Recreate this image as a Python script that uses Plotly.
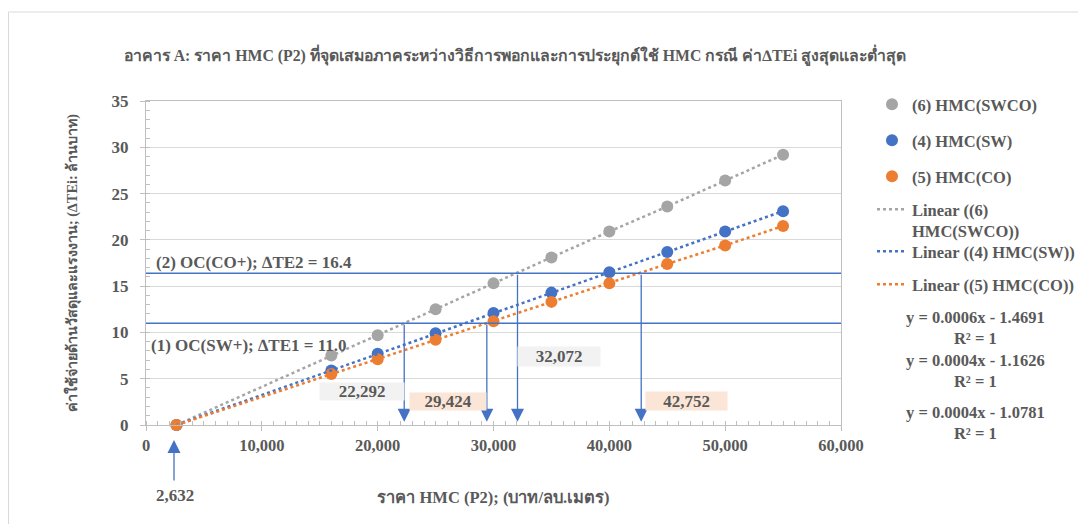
import plotly.graph_objects as go

# ---------------- data ----------------
hmc_price = [2632, 16000, 20000, 25000, 30000, 35000, 40000, 45000, 50000, 55000]
swco_vals = [0, 7.5, 9.7, 12.5, 15.3, 18.1, 20.9, 23.6, 26.4, 29.2]
sw_vals = [0, 5.9, 7.7, 9.9, 12.1, 14.3, 16.5, 18.7, 20.9, 23.1]
co_vals = [0, 5.5, 7.1, 9.2, 11.2, 13.3, 15.3, 17.4, 19.4, 21.5]

series_names = ["(6) HMC(SWCO)", "(4) HMC(SW)", "(5) HMC(CO)"]
trend_names = ["Linear ((6)<br>HMC(SWCO))", "Linear ((4) HMC(SW))", "Linear ((5) HMC(CO))"]
equations = ["y = 0.0006x - 1.4691<br>R² = 1",
             "y = 0.0004x - 1.1626<br>R² = 1",
             "y = 0.0004x - 1.0781<br>R² = 1"]

te1 = 11.0
te2 = 16.4
breakeven_x = [22292, 29424, 32072, 42752]
breakeven_from = [te1, te1, te2, te2]
breakeven_labels = ["22,292", "29,424", "32,072", "42,752"]
origin_label = "2,632"

x_ticks = [0, 10000, 20000, 30000, 40000, 50000, 60000]
x_tick_text = ["0", "10,000", "20,000", "30,000", "40,000", "50,000", "60,000"]
y_ticks = [0, 5, 10, 15, 20, 25, 30, 35]

title_text = "อาคาร A: ราคา HMC (P2) ที่จุดเสมอภาคระหว่างวิธีการพอกและการประยุกต์ใช้ HMC กรณี ค่า∆TEi สูงสุดและต่ำสุด"
x_title = "ราคา HMC (P2); (บาท/ลบ.เมตร)"
y_title = "ค่าใช้จ่ายด้านวัสดุและแรงงาน; (∆TEi: ล้านบาท)"

# ---------------- style ----------------
FONT = "Liberation Serif, Times New Roman, serif"
TXT = "#595959"
GRAY = "#A5A5A5"
BLUE = "#4472C4"
ORANGE = "#ED7D31"
colors = [GRAY, BLUE, ORANGE]
series_vals = [swco_vals, sw_vals, co_vals]
FS = 17  # main label size

# page offset (default body margin of the html page)
OFF = 8
# plot area in page pixels
L, R, T, B = 146, 841, 101, 425
W, H = 1086 - OFF, 524 - OFF


def px2x(px):
    return (px - L) / (R - L)


def py2y(py):
    return (B - py) / (B - T)


fig = go.Figure()

legend_ids = ["legend", "legend2", "legend3", "legend4", "legend5", "legend6"]
legend_rows = [104, 140, 176, 209, 251, 284]
LFS = 16.5

for i in range(3):
    fig.add_trace(go.Scatter(
        x=hmc_price, y=series_vals[i], mode="markers", name=f"<b>{series_names[i]}</b>",
        marker=dict(color=colors[i], size=12), legend=legend_ids[i],
        cliponaxis=False))

for i in range(3):
    fig.add_trace(go.Scatter(
        x=hmc_price, y=series_vals[i], mode="lines", name=f"<b>{trend_names[i]}</b>",
        line=dict(color=colors[i], width=2.5, dash="3px,3px"),
        legend=legend_ids[i + 3]))

# horizontal OC lines
for yv in [te1, te2]:
    fig.add_shape(type="line", xref="x", yref="y", x0=0, x1=60000, y0=yv, y1=yv,
                  line=dict(color=BLUE, width=1.5), layer="above")

annotations = []
# vertical arrows at break-even points
for xv, yv in zip(breakeven_x, breakeven_from):
    annotations.append(dict(
        x=xv, y=0.35, ax=xv, ay=yv, xref="x", yref="y", axref="x", ayref="y",
        text="", showarrow=True, arrowhead=2, arrowsize=2, arrowwidth=1.3,
        arrowcolor=BLUE))

# value boxes
box_specs = [
    (362, 391, 84, 17, "#F2F2F2"),
    (448, 401, 76, 17, "#FBE5D6"),
    (559, 356, 82, 19, "#F2F2F2"),
    (686, 401, 81, 18, "#FBE5D6"),
]
for (cx, cy, bw, bh, bg), lab in zip(box_specs, breakeven_labels):
    annotations.append(dict(
        x=px2x(cx), y=py2y(cy), xref="paper", yref="paper", text=f"<b>{lab}</b>",
        showarrow=False, bgcolor=bg, width=bw, height=bh, borderpad=0,
        font=dict(family=FONT, size=FS, color=TXT), xanchor="center", yanchor="middle"))

# OC labels
annotations.append(dict(
    x=px2x(154), y=py2y(262), xref="paper", yref="paper",
    text="<b>(2) OC(CO+); ∆TE2 = 16.4</b>", showarrow=False, xanchor="left", yanchor="middle",
    font=dict(family=FONT, size=FS, color=TXT)))
annotations.append(dict(
    x=px2x(149), y=py2y(345), xref="paper", yref="paper",
    text="<b>(1) OC(SW+); ∆TE1 = 11.0</b>", showarrow=False, xanchor="left", yanchor="middle",
    font=dict(family=FONT, size=FS, color=TXT)))

# origin arrow + label
annotations.append(dict(
    x=px2x(174), y=py2y(440), xref="paper", yref="paper", ax=0, ay=42,
    text="", showarrow=True, arrowhead=2, arrowsize=2, arrowwidth=1.3, arrowcolor=BLUE))
annotations.append(dict(
    x=px2x(175), y=py2y(495), xref="paper", yref="paper", text=f"<b>{origin_label}</b>",
    showarrow=False, xanchor="center", yanchor="middle",
    font=dict(family=FONT, size=FS, color=TXT)))

# trendline equations
eq_pos = [(975, 328), (975, 371), (975, 423)]
for (cx, cy), eq in zip(eq_pos, equations):
    annotations.append(dict(
        x=px2x(cx), y=py2y(cy), xref="paper", yref="paper", text=f"<b>{eq}</b>",
        showarrow=False, xanchor="center", yanchor="middle", align="center",
        font=dict(family=FONT, size=16.5, color=TXT)))

# chart border
fig.add_shape(type="rect", xref="paper", yref="paper",
              x0=px2x(OFF + 0.5), x1=px2x(1100), y0=py2y(540), y1=py2y(12),
              line=dict(color="#D9D9D9", width=1), layer="below")

legend_layouts = {}
for lid, cy in zip(legend_ids, legend_rows):
    legend_layouts[lid] = dict(
        x=px2x(872), y=py2y(cy - 17), xanchor="left", yanchor="top",
        font=dict(family=FONT, size=LFS, color=TXT), valign="top",
        bgcolor="rgba(0,0,0,0)", itemwidth=30)

fig.update_layout(
    width=W, height=H,
    margin=dict(l=L - OFF, r=W - (R - OFF), t=T - OFF, b=H - (B - OFF), pad=0,
                autoexpand=False),
    paper_bgcolor="white", plot_bgcolor="white",
    font=dict(family=FONT, color=TXT, size=FS),
    title=dict(text=f"<b>{title_text}</b>", x=(515 - OFF) / W, y=1 - (55 - OFF) / H,
               xref="container", yref="container", xanchor="center", yanchor="middle",
               font=dict(family=FONT, size=15.8, color=TXT)),
    showlegend=True,
    annotations=annotations,
    **legend_layouts,
)

fig.update_xaxes(
    range=[0, 60000], tickvals=x_ticks, ticktext=[f"<b>{t}</b>" for t in x_tick_text],
    showgrid=False, zeroline=False, showline=True, linecolor="#BFBFBF", linewidth=1,
    mirror=True, ticks="outside", ticklen=5, tickcolor="#BFBFBF",
    minor=dict(dtick=1000, ticks="inside", ticklen=4, tickcolor="#BFBFBF"),
    tickfont=dict(family=FONT, size=16.5, color=TXT),
    title=dict(text=f"<b>{x_title}</b>", standoff=37, font=dict(family=FONT, size=16.5, color=TXT)),
)
fig.update_yaxes(
    range=[0, 35], tickvals=y_ticks, ticktext=[f"<b>{t}</b>" for t in y_ticks],
    showgrid=True, gridcolor="#D9D9D9", gridwidth=1, zeroline=False,
    showline=True, linecolor="#BFBFBF", linewidth=1, mirror=True,
    ticks="outside", ticklen=5, tickcolor="#BFBFBF",
    minor=dict(dtick=1, ticks="inside", ticklen=4, tickcolor="#BFBFBF", showgrid=False),
    tickfont=dict(family=FONT, size=17, color=TXT), ticklabelstandoff=8,
    title=dict(text=f"<b>{y_title}</b>", standoff=30, font=dict(family=FONT, size=14.3, color=TXT)),
)

fig.write_html("out.html")
